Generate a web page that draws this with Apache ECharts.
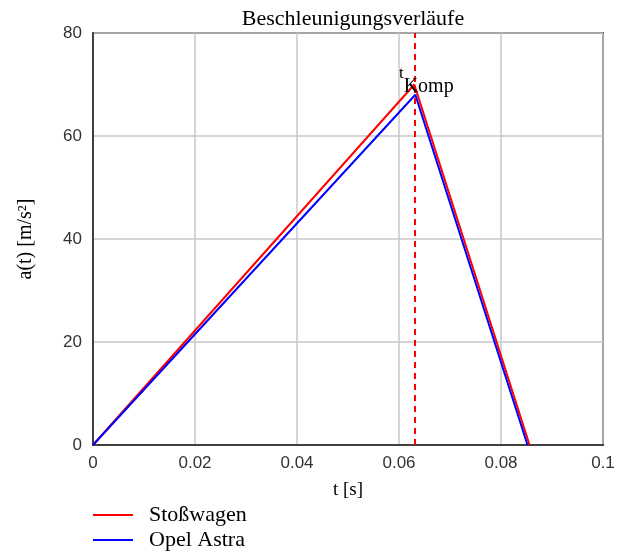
<!DOCTYPE html>
<html>
<head>
<meta charset="utf-8">
<script src="https://cdn.jsdelivr.net/npm/echarts@6/dist/echarts.min.js"></script>
<style>
html,body{margin:0;padding:0;background:#fff;}
#c{width:629px;height:554px;}
</style>
</head>
<body>
<div id="c"></div>
<script>
const titleText = 'Beschleunigungsverläufe';
const seriesNames = ['Stoßwagen', 'Opel Astra'];
const stossT = [0, 0.063, 0.0856];
const stossA = [0, 70, 0];
const opelT = [0, 0.0632, 0.0852];
const opelA = [0, 68, 0];
const tKomp = 0.063;
const xTicks = [0, 0.02, 0.04, 0.06, 0.08, 0.1];
const yTicks = [0, 20, 40, 60, 80];

const serif = '"Liberation Serif", "DejaVu Serif", serif';
const sans = '"Liberation Sans", Arial, sans-serif';

const pairs = (xs, ys) => xs.map((x, i) => [x, ys[i]]);

const chart = echarts.init(document.getElementById('c'), null, {renderer: 'canvas'});
chart.setOption({
  animation: false,
  backgroundColor: '#fff',
  title: {
    text: titleText, left: 348, top: 3, textAlign: 'center',
    textStyle: {fontFamily: serif, fontSize: 22, fontWeight: 'normal', color: '#000'}
  },
  legend: {
    orient: 'vertical', left: 93, top: 504, bottom: 0, padding: 0, itemGap: 3,
    itemWidth: 40, itemHeight: 2, icon: 'rect',
    textStyle: {fontFamily: serif, fontSize: 22, color: '#000', padding: [0, 0, 0, 11]},
    data: seriesNames
  },
  grid: {
    left: 93, right: 26, top: 33, bottom: 109,
    show: true, borderColor: '#404040', borderWidth: 2, backgroundColor: 'transparent'
  },
  xAxis: {
    type: 'value', min: 0, max: 0.1, interval: 0.02,
    name: 't [s]', nameLocation: 'middle', nameGap: 36,
    nameTextStyle: {fontFamily: serif, fontSize: 19, color: '#000'},
    axisLine: {lineStyle: {color: '#404040', width: 2}},
    axisTick: {show: false},
    axisLabel: {
      fontFamily: sans, fontSize: 17, color: '#333', margin: 10,
      formatter: v => { const m = xTicks.find(t => Math.abs(t - v) < 1e-9); return m === undefined ? '' : String(m); }
    },
    splitLine: {show: true, lineStyle: {color: '#c8c8c8', width: 1.5}}
  },
  yAxis: {
    type: 'value', min: 0, max: 80, interval: 20,
    name: 'a(t) [m/s²]', nameLocation: 'middle', nameGap: 57,
    nameTextStyle: {fontFamily: serif, fontSize: 20, color: '#000'},
    axisLine: {show: true, lineStyle: {color: '#404040', width: 2}},
    axisTick: {show: false},
    axisLabel: {
      fontFamily: sans, fontSize: 17, color: '#333', margin: 11,
      formatter: v => { const m = yTicks.find(t => Math.abs(t - v) < 1e-9); return m === undefined ? '' : String(m); }
    },
    splitLine: {show: true, lineStyle: {color: '#c8c8c8', width: 1.5}}
  },
  series: [
    {
      name: seriesNames[0], type: 'line', data: pairs(stossT, stossA),
      showSymbol: false, symbol: 'none', color: '#ff0000',
      lineStyle: {color: '#ff0000', width: 2},
      markLine: {
        silent: true, symbol: 'none', precision: 5,
        lineStyle: {color: '#ff0000', type: [6, 5], width: 2},
        label: {show: false},
        data: [{xAxis: tKomp}]
      },
      markPoint: {
        symbol: 'circle', symbolSize: 0,
        data: [{coord: [tKomp, 70.5]}],
        label: {
          show: true, position: 'inside', offset: [12, -1],
          formatter: '{t|t}{k|Komp}',
          rich: {
            t: {fontFamily: serif, fontSize: 17, color: '#000', verticalAlign: 'top', padding: [0, 0, 12, 0]},
            k: {fontFamily: serif, fontSize: 20, color: '#000', padding: [12, 0, 0, 0]}
          }
        }
      }
    },
    {
      name: seriesNames[1], type: 'line', data: pairs(opelT, opelA),
      showSymbol: false, symbol: 'none', color: '#0000ff',
      lineStyle: {color: '#0000ff', width: 2}
    }
  ]
});
</script>
</body>
</html>
